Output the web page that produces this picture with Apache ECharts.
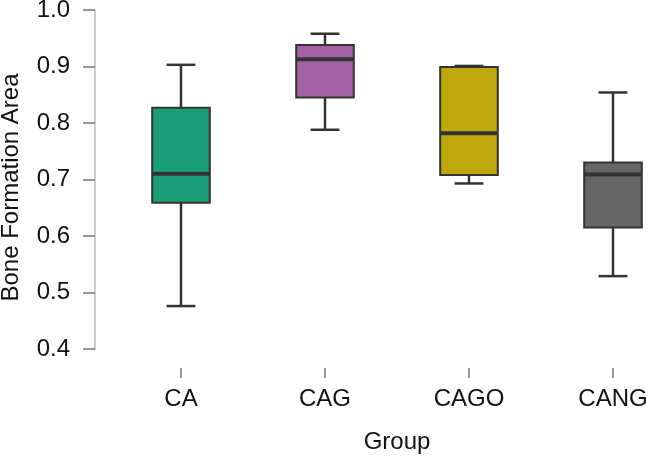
<!DOCTYPE html>
<html>
<head>
<meta charset="utf-8">
<script src="https://cdn.jsdelivr.net/npm/echarts@6/dist/echarts.min.js"></script>
<style>
  html, body { margin: 0; padding: 0; background: #fff; }
  #main { width: 648px; height: 457px; }
</style>
</head>
<body>
<div id="main"></div>
<script>
// 各组数据
var groups = ['CA', 'CAG', 'CAGO', 'CANG'];
var minVals = [0.476, 0.788, 0.693, 0.529];
var q1Vals = [0.659, 0.845, 0.708, 0.615];
var medianVals = [0.710, 0.913, 0.782, 0.709];
var q3Vals = [0.827, 0.938, 0.899, 0.730];
var maxVals = [0.903, 0.958, 0.901, 0.854];
var yTicks = [0.4, 0.5, 0.6, 0.7, 0.8, 0.9, 1.0];

var boxColors = ['#1b9e77', '#a462a4', '#bfa80c', '#666666'];
var font = '"Liberation Sans", Arial, sans-serif';

var boxData = [];
for (var i = 0; i < groups.length; i++) {
  boxData.push([i, minVals[i], q1Vals[i], medianVals[i], q3Vals[i], maxVals[i]]);
}

// 画箱线图：箱体、中位线、须线、须端短横线
function renderBox(params, api) {
  var idx = api.value(0);
  var pMin = api.coord([idx, api.value(1)]);
  var pQ1 = api.coord([idx, api.value(2)]);
  var pMed = api.coord([idx, api.value(3)]);
  var pQ3 = api.coord([idx, api.value(4)]);
  var pMax = api.coord([idx, api.value(5)]);
  var bw = api.size([1, 0])[0] * 0.4;
  var cw = bw / 2;
  var x = pMed[0];
  var line = { stroke: '#333333', lineWidth: 2.5 };
  return {
    type: 'group',
    children: [
      { type: 'line', shape: { x1: x, y1: pQ3[1], x2: x, y2: pMax[1] }, style: line },
      { type: 'line', shape: { x1: x, y1: pQ1[1], x2: x, y2: pMin[1] }, style: line },
      { type: 'line', shape: { x1: x - cw / 2, y1: pMax[1], x2: x + cw / 2, y2: pMax[1] }, style: line },
      { type: 'line', shape: { x1: x - cw / 2, y1: pMin[1], x2: x + cw / 2, y2: pMin[1] }, style: line },
      {
        type: 'rect',
        shape: { x: x - bw / 2, y: pQ3[1], width: bw, height: pQ1[1] - pQ3[1] },
        style: { fill: boxColors[idx], stroke: '#333333', lineWidth: 2 }
      },
      { type: 'line', shape: { x1: x - bw / 2, y1: pMed[1], x2: x + bw / 2, y2: pMed[1] }, style: { stroke: '#333333', lineWidth: 4 } }
    ]
  };
}

var myChart = echarts.init(document.getElementById('main'));
var option = {
  animation: false,
  grid: { left: 109, top: 10, width: 576, height: 339, outerBoundsMode: 'none', containLabel: false },
  xAxis: {
    type: 'category',
    data: groups,
    offset: 19,
    name: 'Group',
    nameLocation: 'middle',
    nameGap: 62,
    nameTextStyle: { fontSize: 24, color: '#111', fontFamily: font },
    axisLine: { show: false },
    axisTick: { show: true, alignWithLabel: true, length: 10, lineStyle: { color: '#777', width: 1.5 } },
    axisLabel: { fontSize: 24, color: '#111', fontFamily: font, margin: 19 },
    splitLine: { show: false }
  },
  yAxis: {
    type: 'value',
    min: yTicks[0],
    max: yTicks[yTicks.length - 1],
    interval: 0.1,
    offset: 14,
    name: 'Bone Formation Area',
    nameLocation: 'middle',
    nameGap: 72,
    nameTextStyle: { fontSize: 24, color: '#111', fontFamily: font, padding: [0, 16, 0, 0] },
    axisLine: { show: true, lineStyle: { color: '#bbb', width: 1.5 } },
    axisTick: { show: true, length: 12, lineStyle: { color: '#777', width: 1.5 } },
    axisLabel: {
      fontSize: 24, color: '#111', fontFamily: font, margin: 25,
      formatter: function (v) { return v.toFixed(1); }
    },
    splitLine: { show: false }
  },
  series: [{
    type: 'custom',
    renderItem: renderBox,
    encode: { x: 0, y: [1, 2, 3, 4, 5] },
    data: boxData
  }]
};
myChart.setOption(option);
</script>
</body>
</html>
